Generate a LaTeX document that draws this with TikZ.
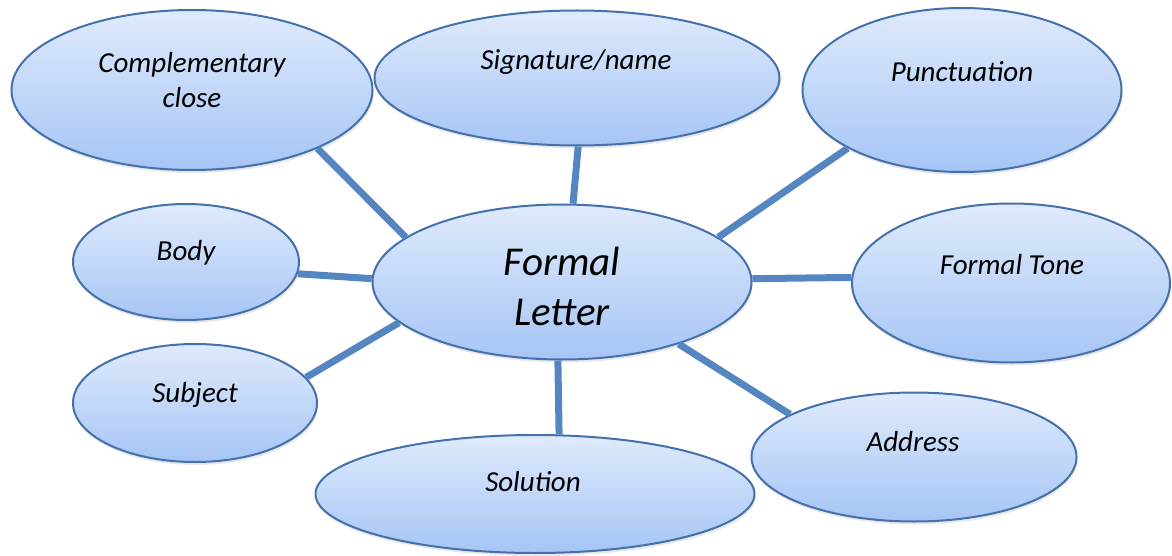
\documentclass[tikz,border=0pt]{standalone}
\usepackage{fontspec}
\setmainfont{Carlito}
\usetikzlibrary{shapes.geometric,shadows}

\definecolor{bubtop}{RGB}{223,234,252}
\definecolor{bubbot}{RGB}{166,197,245}
\definecolor{bubline}{RGB}{68,112,172}
\definecolor{spokecol}{RGB}{86,134,193}

\begin{document}
\begin{tikzpicture}[
  x=1pt, y=-1pt,
  bubble/.style={
    ellipse,
    draw=bubline,
    line width=2pt,
    top color=bubtop,
    bottom color=bubbot,
    inner sep=0pt,
    drop shadow={opacity=0.18, shadow xshift=1pt, shadow yshift=-3pt}},
  tag/.style={
    anchor=base,
    align=center,
    font=\fontsize{29}{35}\selectfont\itshape},
  bigtag/.style={
    tag,
    font=\fontsize{41}{50}\selectfont\itshape},
  spoke/.style={
    draw=spokecol,
    line width=7pt}]
\useasboundingbox (0,0) rectangle (1172,556);

% bubbles
\node[bubble, minimum width=361pt, minimum height=160pt] (close) at (192,90) {};
\node[bubble, minimum width=405pt, minimum height=135pt] (sign) at (577,78) {};
\node[bubble, minimum width=319pt, minimum height=164pt] (punct) at (962,90) {};
\node[bubble, minimum width=226pt, minimum height=116pt] (body) at (186,262) {};
\node[bubble, minimum width=379pt, minimum height=155pt] (letter) at (562,282) {};
\node[bubble, minimum width=318pt, minimum height=159pt] (tone) at (1011,283) {};
\node[bubble, minimum width=244pt, minimum height=118pt] (subject) at (195,403) {};
\node[bubble, minimum width=439pt, minimum height=118pt] (solution) at (535,494) {};
\node[bubble, minimum width=325pt, minimum height=129pt] (address) at (914,457) {};

% texts (two-line ones sit on their last line)
\node[tag] (close-t) at (192,108) {Complementary\\close};
\node[tag] (sign-t) at (576,70) {Signature/name};
\node[tag] (punct-t) at (962,82) {Punctuation};
\node[tag] (body-t) at (186,260) {Body};
\node[bigtag] (letter-t) at (562,325) {Formal\\Letter};
\node[tag] (tone-t) at (1012,274) {Formal Tone};
\node[tag] (subject-t) at (195,402) {Subject};
\node[tag] (solution-t) at (533,491) {Solution};
\node[tag] (address-t) at (913,451) {Address};

% spokes
\draw[spoke] (close.335) -- (letter.164);
\draw[spoke] (sign.271) -- (letter.82);
\draw[spoke] (punct.207) -- (letter.16);
\draw[spoke] (body.354) -- (letter.179);
\draw[spoke] (tone.178) -- (letter.1);
\draw[spoke] (subject.13) -- (letter.194);
\draw[spoke] (solution.68) -- (letter.267);
\draw[spoke] (address.161) -- (letter.332);
\end{tikzpicture}
\end{document}
